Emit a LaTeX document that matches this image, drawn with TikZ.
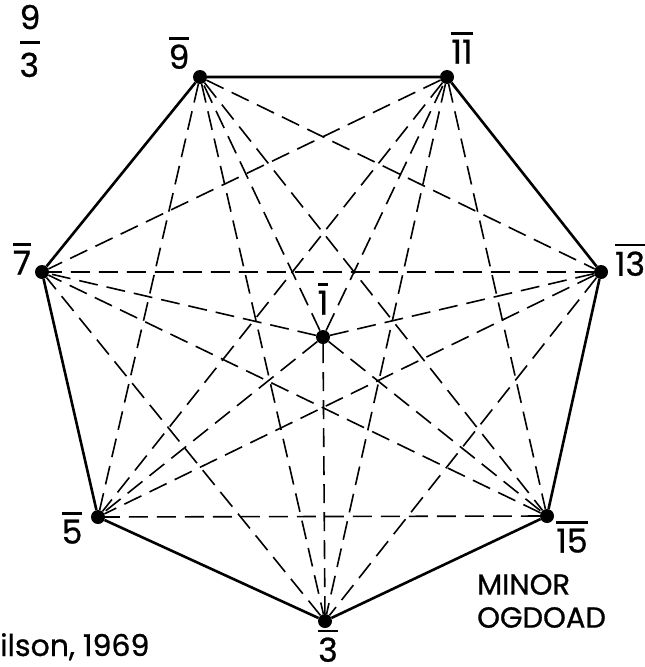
\documentclass[tikz,border=0pt]{standalone}
\usepackage{fontspec}
\setmainfont{Poppins}[FakeBold=0.8]
\usetikzlibrary{positioning}
\newcommand{\ob}[1]{\vbox{\hrule height 2.4pt\kern5pt\hbox{#1}}}
\newcommand{\frc}[2]{\vbox{\hbox{#1}\kern12pt\hrule height 2.4pt\kern9pt\hbox{#2}}}

\begin{document}
\begin{tikzpicture}[x=1pt, y=-1pt,
    dot/.style={circle, fill=black, inner sep=0pt, minimum size=14pt},
    lbl/.style={inner sep=0pt, font=\fontsize{33}{35}\selectfont},
    rim/.style={line width=2.6pt},
    chord/.style={line width=1.6pt, dash pattern=on 19pt off 9pt}
]
\useasboundingbox (0,0) rectangle (645,667);

% vertices of the heptagon and the centre
\node[dot] (v9)  at (200,77)  {};
\node[dot] (v11) at (447,77)  {};
\node[dot] (v13) at (601,272) {};
\node[dot] (v15) at (547,516) {};
\node[dot] (v3)  at (325,621) {};
\node[dot] (v5)  at (98,517)  {};
\node[dot] (v7)  at (42,272)  {};
\node[dot] (c1)  at (323,337) {};

% labels
\node[lbl] (l9)  at (179,53)  {\ob{9}};
\node[lbl] (l11) at (462,48)  {\ob{11}};
\node[lbl] (l13) at (630,260) {\ob{13}};
\node[lbl] (l15) at (572,537) {\ob{15}};
\node[lbl] (l3)  at (328,646) {\ob{3}};
\node[lbl] (l5)  at (72,528)  {\ob{5}};
\node[lbl] (l7)  at (22,259)  {\ob{7}};
\node[lbl] (l1)  at (323,299) {\ob{1}};

\node[lbl] (frac) at (30,41) {\frc{9}{3}};
\node[inner sep=0pt, anchor=west, align=left, font=\fontsize{29}{33}\selectfont] (name) at (477,601) {MINOR\\OGDOAD};
\node[inner sep=0pt, anchor=base west, font=\fontsize{30}{32}\selectfont] (cite) at (0,656) {ilson, 1969};

% outline
\draw[rim] (v9) -- (v11) -- (v13) -- (v15) -- (v3) -- (v5) -- (v7) -- (v9);

% spokes from the centre
\draw[chord] (c1) -- (v9)  (c1) -- (v11) (c1) -- (v13) (c1) -- (v15)
             (c1) -- (v3)  (c1) -- (v5)  (c1) -- (v7);

% diagonals
\draw[chord] (v9) -- (v13)  (v9) -- (v15)  (v9) -- (v3)  (v9) -- (v5);
\draw[chord] (v11) -- (v15) (v11) -- (v3)  (v11) -- (v5) (v11) -- (v7);
\draw[chord] (v13) -- (v3)  (v13) -- (v5)  (v13) -- (v7);
\draw[chord] (v15) -- (v5)  (v15) -- (v7);
\draw[chord] (v3) -- (v7);
\end{tikzpicture}
\end{document}
